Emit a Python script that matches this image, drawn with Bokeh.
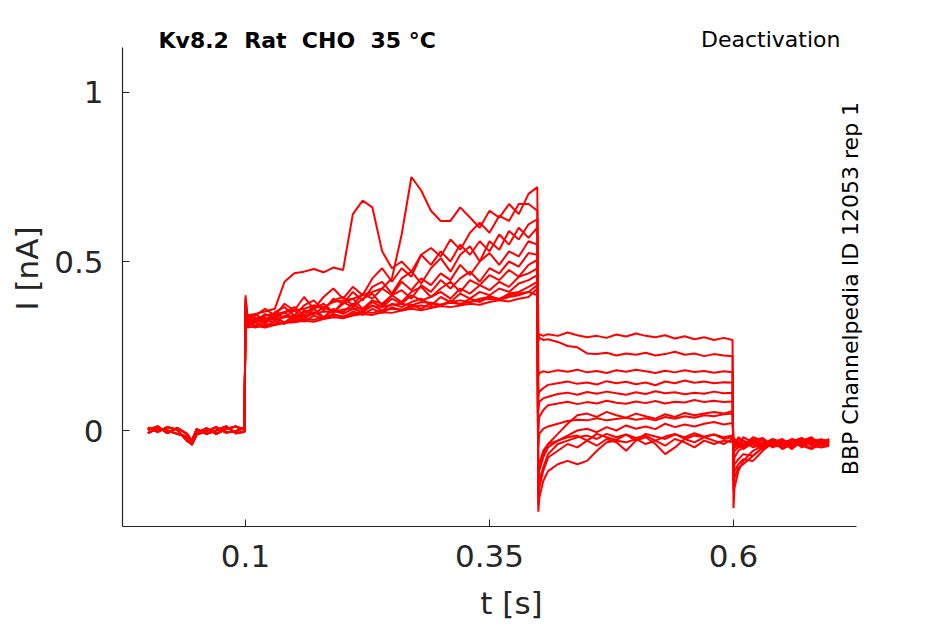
from bokeh.plotting import figure
from bokeh.models import FixedTicker, Label, Range1d
from bokeh.embed import file_html
from bokeh.resources import INLINE

# ---- tick labels ----
X_TICKS = [0.1, 0.35, 0.6]
Y_TICKS = [0, 0.5, 1]

# ---- sampling times of the protocol segments [s] ----
B_T = [0.0, 0.01, 0.02, 0.03, 0.04, 0.045, 0.05, 0.06, 0.07, 0.08, 0.09, 0.099]
P_T = [0.1, 0.102, 0.11, 0.12, 0.13, 0.14, 0.15, 0.16, 0.17, 0.18, 0.19, 0.20,
       0.21, 0.22, 0.23, 0.24, 0.25, 0.26, 0.27, 0.28, 0.29, 0.30, 0.31, 0.32,
       0.33, 0.34, 0.35, 0.36, 0.37, 0.38, 0.39, 0.399]
D_T = [0.4, 0.401, 0.405, 0.41, 0.42, 0.43, 0.44, 0.45, 0.46, 0.47, 0.48, 0.49,
       0.50, 0.51, 0.52, 0.53, 0.54, 0.55, 0.56, 0.57, 0.58, 0.59, 0.599]
A_T = [0.6, 0.601, 0.605, 0.61, 0.62, 0.63, 0.64, 0.65, 0.66, 0.67, 0.68, 0.69, 0.698]

# ---- baseline (holding) currents [nA] ----
BASE_1 = [0.008, -0.004, 0.01, 0.002, -0.03, -0.04, -0.008, 0.006, -0.01, 0.004, 0.012, 0.002]
BASE_2 = [-0.008, 0.006, 0.0, -0.01, -0.018, -0.042, -0.012, -0.002, 0.01, -0.006, -0.002, 0.008]
BASE_3 = [0.002, 0.012, -0.008, 0.008, -0.01, -0.03, 0.004, -0.01, 0.0, 0.012, -0.008, -0.004]

# ---- activating pulse currents [nA] ----
P_A = [0.40, 0.34, 0.345, 0.352, 0.36, 0.44, 0.465, 0.47, 0.478, 0.468, 0.482, 0.475, 0.64, 0.68, 0.66, 0.53, 0.48, 0.50, 0.47, 0.52, 0.49, 0.53, 0.50, 0.55, 0.52, 0.56, 0.53, 0.58, 0.55, 0.60, 0.57, 0.60]
P_B = [0.37, 0.33, 0.33, 0.34, 0.345, 0.35, 0.355, 0.36, 0.37, 0.365, 0.38, 0.385, 0.39, 0.40, 0.41, 0.42, 0.45, 0.58, 0.75, 0.71, 0.65, 0.62, 0.62, 0.66, 0.63, 0.60, 0.65, 0.63, 0.67, 0.64, 0.70, 0.72]
P_C = [0.39, 0.335, 0.34, 0.36, 0.34, 0.375, 0.355, 0.395, 0.36, 0.395, 0.42, 0.39, 0.425, 0.40, 0.45, 0.48, 0.44, 0.48, 0.455, 0.52, 0.54, 0.515, 0.565, 0.535, 0.585, 0.615, 0.585, 0.635, 0.62, 0.67, 0.67, 0.65]
P_D = [0.38, 0.325, 0.345, 0.325, 0.35, 0.365, 0.34, 0.37, 0.385, 0.355, 0.39, 0.375, 0.41, 0.385, 0.425, 0.44, 0.405, 0.45, 0.47, 0.435, 0.48, 0.51, 0.47, 0.52, 0.545, 0.50, 0.56, 0.535, 0.59, 0.565, 0.61, 0.625]
P_E = [0.37, 0.33, 0.32, 0.345, 0.33, 0.35, 0.365, 0.34, 0.37, 0.36, 0.385, 0.395, 0.37, 0.405, 0.39, 0.42, 0.40, 0.44, 0.415, 0.45, 0.43, 0.465, 0.445, 0.49, 0.46, 0.50, 0.525, 0.49, 0.53, 0.515, 0.56, 0.55]
P_F = [0.36, 0.32, 0.335, 0.32, 0.34, 0.335, 0.355, 0.33, 0.36, 0.375, 0.35, 0.38, 0.365, 0.39, 0.405, 0.37, 0.40, 0.415, 0.39, 0.43, 0.41, 0.445, 0.42, 0.45, 0.47, 0.44, 0.48, 0.465, 0.50, 0.485, 0.525, 0.52]
P_G = [0.37, 0.325, 0.33, 0.315, 0.34, 0.35, 0.325, 0.355, 0.345, 0.365, 0.35, 0.375, 0.39, 0.36, 0.385, 0.375, 0.40, 0.38, 0.41, 0.425, 0.395, 0.42, 0.44, 0.41, 0.445, 0.43, 0.46, 0.445, 0.475, 0.455, 0.49, 0.505]
P_H = [0.36, 0.315, 0.325, 0.335, 0.315, 0.34, 0.33, 0.35, 0.36, 0.335, 0.36, 0.35, 0.375, 0.355, 0.38, 0.365, 0.39, 0.375, 0.40, 0.385, 0.395, 0.41, 0.39, 0.42, 0.405, 0.43, 0.415, 0.44, 0.425, 0.455, 0.465, 0.48]
P_I = [0.35, 0.32, 0.31, 0.325, 0.335, 0.32, 0.34, 0.33, 0.35, 0.335, 0.355, 0.345, 0.36, 0.35, 0.37, 0.355, 0.375, 0.365, 0.38, 0.39, 0.37, 0.395, 0.38, 0.405, 0.39, 0.41, 0.40, 0.42, 0.41, 0.435, 0.445, 0.46]
P_J = [0.36, 0.31, 0.32, 0.308, 0.325, 0.315, 0.335, 0.322, 0.34, 0.33, 0.345, 0.335, 0.352, 0.342, 0.36, 0.348, 0.365, 0.355, 0.372, 0.36, 0.378, 0.368, 0.385, 0.372, 0.39, 0.38, 0.398, 0.388, 0.405, 0.41, 0.425, 0.44]
P_K = [0.35, 0.31, 0.305, 0.312, 0.315, 0.32, 0.325, 0.33, 0.328, 0.335, 0.34, 0.338, 0.345, 0.35, 0.348, 0.355, 0.36, 0.358, 0.365, 0.37, 0.365, 0.372, 0.378, 0.375, 0.38, 0.385, 0.39, 0.386, 0.395, 0.40, 0.41, 0.43]
P_L = [0.34, 0.305, 0.31, 0.305, 0.312, 0.318, 0.32, 0.325, 0.322, 0.33, 0.335, 0.332, 0.34, 0.345, 0.342, 0.35, 0.348, 0.355, 0.36, 0.356, 0.362, 0.368, 0.365, 0.37, 0.375, 0.372, 0.38, 0.385, 0.382, 0.39, 0.395, 0.42]
P_M = [0.35, 0.315, 0.32, 0.33, 0.328, 0.335, 0.34, 0.338, 0.345, 0.352, 0.35, 0.358, 0.362, 0.36, 0.368, 0.365, 0.372, 0.375, 0.37, 0.38, 0.378, 0.372, 0.38, 0.385, 0.38, 0.39, 0.395, 0.39, 0.40, 0.405, 0.41, 0.40]

# ---- deactivation step currents [nA] ----
D_1 = [0.27, 0.285, 0.28, 0.285, 0.28, 0.29, 0.282, 0.276, 0.28, 0.274, 0.284, 0.278, 0.287, 0.28, 0.276, 0.282, 0.272, 0.279, 0.27, 0.276, 0.268, 0.274, 0.268]
D_2 = [0.262, 0.275, 0.268, 0.27, 0.262, 0.25, 0.246, 0.228, 0.226, 0.23, 0.222, 0.228, 0.224, 0.23, 0.222, 0.226, 0.233, 0.224, 0.228, 0.22, 0.226, 0.222, 0.22]
D_3 = [0.16, 0.17, 0.175, 0.172, 0.178, 0.174, 0.18, 0.172, 0.176, 0.17, 0.178, 0.174, 0.18, 0.175, 0.17, 0.177, 0.172, 0.178, 0.173, 0.176, 0.171, 0.175, 0.172]
D_4 = [0.10, 0.115, 0.125, 0.135, 0.14, 0.145, 0.138, 0.142, 0.136, 0.146, 0.14, 0.144, 0.137, 0.142, 0.134, 0.145, 0.14, 0.148, 0.141, 0.145, 0.14, 0.143, 0.142]
D_5 = [0.06, 0.085, 0.095, 0.10, 0.108, 0.112, 0.106, 0.114, 0.109, 0.115, 0.11, 0.106, 0.113, 0.108, 0.116, 0.11, 0.113, 0.107, 0.112, 0.109, 0.115, 0.11, 0.112]
D_6 = [0.0, 0.04, 0.06, 0.075, 0.08, 0.085, 0.078, 0.084, 0.08, 0.088, 0.082, 0.079, 0.086, 0.081, 0.087, 0.08, 0.085, 0.083, 0.09, 0.084, 0.088, 0.084, 0.086]
D_7 = [-0.05, -0.01, 0.005, 0.012, 0.02, 0.028, 0.032, 0.03, 0.036, 0.03, 0.034, 0.038, 0.032, 0.036, 0.03, 0.04, 0.035, 0.042, 0.038, 0.045, 0.042, 0.048, 0.05]
D_8 = [-0.15, -0.10, -0.07, -0.04, -0.01, 0.02, 0.045, 0.05, 0.04, 0.055, 0.045, 0.038, 0.05, 0.042, 0.035, 0.048, 0.04, 0.052, 0.045, 0.05, 0.055, 0.05, 0.058]
D_9 = [-0.18, -0.12, -0.08, -0.05, -0.03, -0.015, 0.0, 0.005, -0.005, 0.01, 0.0, 0.015, 0.005, 0.012, 0.004, 0.02, 0.01, 0.018, 0.012, 0.02, 0.025, 0.018, 0.022]
D_10 = [-0.20, -0.15, -0.11, -0.07, -0.04, -0.03, -0.02, -0.015, -0.025, -0.01, -0.02, -0.012, -0.03, -0.01, -0.018, -0.025, -0.012, -0.02, -0.008, -0.018, -0.012, -0.02, -0.015]
D_11 = [-0.24, -0.20, -0.15, -0.12, -0.10, -0.09, -0.10, -0.09, -0.06, -0.035, -0.03, -0.035, -0.025, -0.04, -0.03, -0.045, -0.025, -0.035, -0.05, -0.03, -0.04, -0.03, -0.035]
D_12 = [-0.22, -0.17, -0.12, -0.08, -0.06, -0.04, -0.05, -0.03, -0.045, -0.025, -0.035, -0.06, -0.03, -0.02, -0.04, -0.07, -0.05, -0.025, -0.035, -0.02, -0.03, -0.04, -0.025]
D_13 = [-0.16, -0.10, -0.06, -0.04, -0.03, -0.02, -0.015, -0.03, -0.01, -0.02, -0.028, -0.012, -0.022, -0.015, -0.03, -0.018, -0.01, -0.025, -0.015, -0.02, -0.012, -0.025, -0.02]

# ---- return-to-holding tail currents [nA] ----
A_1 = [-0.23, -0.17, -0.12, -0.09, -0.06, -0.045, -0.035, -0.04, -0.03, -0.038, -0.028, -0.035, -0.03]
A_2 = [-0.18, -0.14, -0.11, -0.10, -0.075, -0.05, -0.04, -0.03, -0.04, -0.032, -0.025, -0.035, -0.03]
A_3 = [-0.15, -0.12, -0.10, -0.085, -0.09, -0.06, -0.035, -0.03, -0.042, -0.028, -0.036, -0.03, -0.027]
A_4 = [-0.12, -0.10, -0.085, -0.07, -0.075, -0.05, -0.035, -0.045, -0.03, -0.04, -0.032, -0.026, -0.034]
A_5 = [-0.10, -0.08, -0.06, -0.05, -0.04, -0.035, -0.045, -0.03, -0.038, -0.028, -0.04, -0.034, -0.03]
A_6 = [-0.08, -0.06, -0.05, -0.045, -0.035, -0.042, -0.03, -0.04, -0.025, -0.036, -0.03, -0.04, -0.033]
A_7 = [-0.05, -0.035, -0.025, -0.04, -0.03, -0.022, -0.045, -0.035, -0.028, -0.05, -0.03, -0.04, -0.025]
A_8 = [-0.06, -0.045, -0.05, -0.03, -0.042, -0.055, -0.035, -0.025, -0.045, -0.038, -0.052, -0.03, -0.045]
A_9 = [-0.04, -0.025, -0.035, -0.045, -0.02, -0.03, -0.04, -0.05, -0.032, -0.022, -0.04, -0.035, -0.04]
A_10 = [-0.03, -0.045, -0.02, -0.03, -0.05, -0.04, -0.025, -0.035, -0.055, -0.03, -0.02, -0.045, -0.03]
A_11 = [-0.035, -0.05, -0.04, -0.055, -0.035, -0.028, -0.05, -0.04, -0.03, -0.045, -0.055, -0.038, -0.035]
A_12 = [-0.04, -0.03, -0.05, -0.02, -0.035, -0.048, -0.03, -0.055, -0.04, -0.025, -0.045, -0.05, -0.045]
A_13 = [-0.03, -0.05, -0.035, -0.045, -0.025, -0.055, -0.04, -0.03, -0.05, -0.035, -0.025, -0.045, -0.04]

BASES = [BASE_1, BASE_2, BASE_3]
PULSES = [P_A, P_B, P_C, P_D, P_E, P_F, P_G, P_H, P_I, P_J, P_K, P_L, P_M]
DEACTS = [D_1, D_2, D_3, D_4, D_5, D_6, D_7, D_8, D_9, D_10, D_11, D_12, D_13]
TAILS = [A_1, A_2, A_3, A_4, A_5, A_6, A_7, A_8, A_9, A_10, A_11, A_12, A_13]

xs, ys = [], []
for k in range(len(PULSES)):
    xs.append(B_T + P_T + D_T + A_T)
    ys.append(BASES[k % 3] + PULSES[k] + DEACTS[k] + TAILS[k])
    assert len(xs[-1]) == len(ys[-1]), (k, len(xs[-1]), len(ys[-1]))

INK = "#262626"
FONT = "DejaVu Sans"

# axes drawn data extent; the frame is a little larger so the header texts fit inside it
X_AXIS_BOUNDS = (-0.026, 0.726)
Y_AXIS_BOUNDS = (-0.284, 1.133)

p = figure(width=945, height=624,
           x_range=Range1d(-0.02602, 0.77111), y_range=Range1d(-0.28402, 1.2426),
           output_backend="svg", toolbar_location=None,
           min_border_left=122, min_border_right=45,
           min_border_top=10, min_border_bottom=98)
p.background_fill_color = "white"
p.border_fill_color = "white"
p.outline_line_color = None
p.xgrid.visible = False
p.ygrid.visible = False

p.multi_line(xs, ys, line_color="#ff0000", line_width=2)

for ax in (p.xaxis[0], p.yaxis[0]):
    ax.axis_line_color = INK
    ax.axis_line_width = 1.2
    ax.major_tick_line_color = INK
    ax.major_tick_in = 7
    ax.major_tick_out = 0
    ax.minor_tick_line_color = None
    ax.major_label_text_font = FONT
    ax.major_label_text_font_size = "31px"
    ax.major_label_text_color = INK
    ax.axis_label_text_font = FONT
    ax.axis_label_text_font_size = "31px"
    ax.axis_label_text_color = INK
    ax.axis_label_text_font_style = "normal"

p.xaxis.bounds = X_AXIS_BOUNDS
p.yaxis.bounds = Y_AXIS_BOUNDS
p.xaxis.ticker = FixedTicker(ticks=X_TICKS)
p.yaxis.ticker = FixedTicker(ticks=Y_TICKS)
p.xaxis.major_label_overrides = {v: f"{v:g}" for v in X_TICKS}
p.yaxis.major_label_overrides = {v: f"{v:g}" for v in Y_TICKS}
p.xaxis.axis_label = "t [s]"
p.yaxis.axis_label = "I [nA]"
p.xaxis.major_label_standoff = 18
p.yaxis.major_label_standoff = 19
p.xaxis.axis_label_standoff = 15
p.yaxis.axis_label_standoff = 6

# double gaps of the header are kept with a no-break space (SVG collapses plain runs)
p.add_layout(Label(x=0.0109, y=1.154, text="Kv8.2 \u00a0Rat \u00a0CHO \u00a035 °C",
                   text_font=FONT, text_font_size="22px", text_font_style="bold",
                   text_color="black", text_baseline="middle", text_align="left"))
p.add_layout(Label(x=0.7096, y=1.157, text="Deactivation",
                   text_font=FONT, text_font_size="22px",
                   text_color="black", text_baseline="middle", text_align="right"))
p.add_layout(Label(x=0.7198, y=0.42, text="BBP Channelpedia ID 12053 rep 1",
                   text_font=FONT, text_font_size="22px", angle=1.5708,
                   text_color="black", text_baseline="middle", text_align="center"))

open("out.html", "w").write(file_html(p, INLINE))
